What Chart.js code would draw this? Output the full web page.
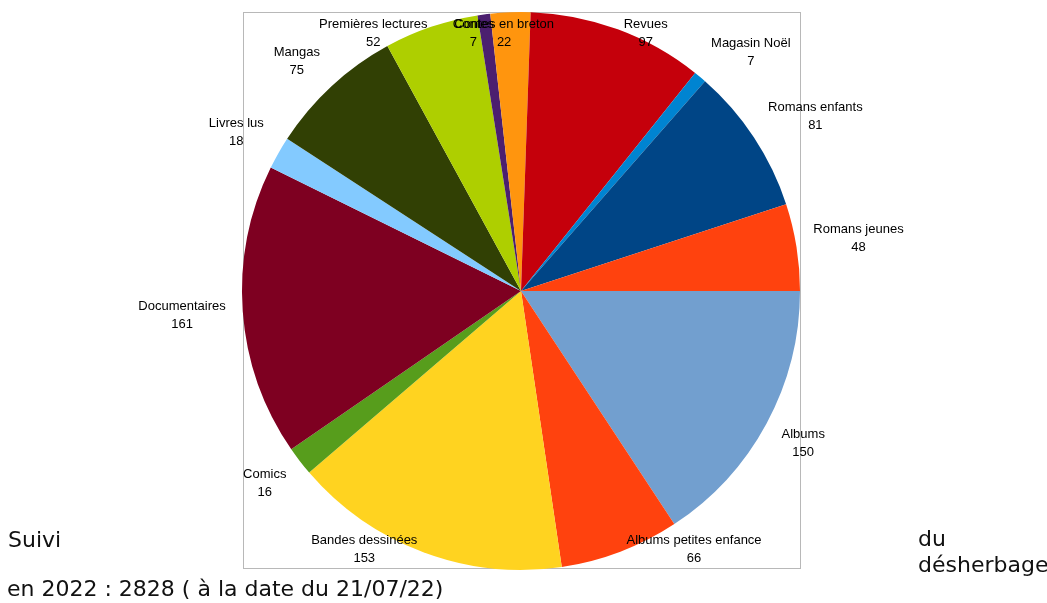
<!DOCTYPE html>
<html lang="fr">
<head>
<meta charset="utf-8">
<title>Suivi du désherbage</title>
<script src="https://cdn.jsdelivr.net/npm/chart.js@4/dist/chart.umd.min.js"></script>
<style>
  html, body { margin: 0; padding: 0; background: #fff; }
  #wrap { position: relative; width: 1047px; height: 603px; overflow: hidden; }
  #pie { position: absolute; left: 0; top: 0; }
  .caption {
    position: absolute;
    font-family: "DejaVu Sans", Verdana, sans-serif;
    font-size: 22px;
    line-height: 26px;
    color: #111;
    white-space: nowrap;
  }
</style>
</head>
<body>
<div id="wrap">
  <canvas id="pie" width="1047" height="603"></canvas>
  <div class="caption" style="left:8px; top:527px;">Suivi</div>
  <div class="caption" style="left:918px; top:526px;">du<br>désherbage</div>
  <div class="caption" style="left:7px; top:576px;">en 2022 : 2828 ( à la date du 21/07/22)</div>
</div>

<script>
/* ---------- data ---------- */
const categories = [
  "Albums", "Albums petites enfance", "Bandes dessinées", "Comics",
  "Documentaires", "Livres lus", "Mangas", "Premières lectures",
  "Contes", "Contes en breton", "Revues", "Magasin Noël",
  "Romans enfants", "Romans jeunes"
];
const counts = [150, 66, 153, 16, 161, 18, 75, 52, 7, 22, 97, 7, 81, 48];
const sliceColors = [
  "#729fcf", "#ff420e", "#ffd320", "#579d1c",
  "#7e0021", "#83caff", "#314004", "#aecf00",
  "#4b1f6f", "#ff950e", "#c5000b", "#0084d1",
  "#004586", "#ff420e"
];

/* ---------- frame + outside labels (excel style) ---------- */
const clamp = (v, lo, hi) => Math.min(Math.max(v, lo), hi);

const outerLabels = {
  id: "outerLabels",
  beforeDraw(chart) {
    const { ctx, chartArea: a } = chart;
    ctx.save();
    ctx.strokeStyle = "#b8b8b8";
    ctx.lineWidth = 1;
    ctx.strokeRect(a.left + 1.5, a.top + 0.5, a.width - 1, a.height - 2);
    ctx.restore();
  },
  afterDatasetsDraw(chart) {
    const { ctx, chartArea: a } = chart;
    const meta = chart.getDatasetMeta(0);
    ctx.save();
    ctx.font = '13px "Liberation Sans", Arial, sans-serif';
    ctx.fillStyle = "#000";
    ctx.textAlign = "center";
    ctx.textBaseline = "middle";
    meta.data.forEach((arc, i) => {
      const p = arc.getProps(["x", "y", "startAngle", "endAngle", "outerRadius"], true);
      const mid = (p.startAngle + p.endAngle) / 2;
      const c = Math.cos(mid), s = Math.sin(mid);
      // anchor just outside the rim, label box pushed away from it
      const r = p.outerRadius + 17;
      const hw = Math.max(ctx.measureText(categories[i]).width,
                          ctx.measureText(String(counts[i])).width) / 2;
      const hh = 12;
      const lx = p.x + c * r + hw * clamp(3 * c, -1, 1);
      let ly = p.y + s * r + hh * clamp(3 * s, -1, 1);
      ly = clamp(ly, a.top + 21, a.bottom - 21);
      ctx.fillText(categories[i], lx, ly - 9);
      ctx.fillText(String(counts[i]), lx, ly + 9);
    });
    ctx.restore();
  }
};

new Chart(document.getElementById("pie"), {
  type: "pie",
  data: {
    labels: categories,
    datasets: [{
      data: counts,
      backgroundColor: sliceColors,
      borderWidth: 0
    }]
  },
  options: {
    responsive: false,
    animation: false,
    rotation: 90,
    layout: { padding: { left: 242, right: 247, top: 12, bottom: 33 } },
    plugins: {
      legend: { display: false },
      tooltip: { enabled: false }
    }
  },
  plugins: [outerLabels]
});
</script>
</body>
</html>
